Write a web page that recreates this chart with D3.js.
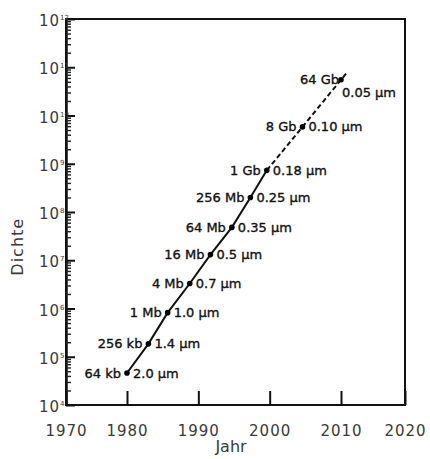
<!DOCTYPE html>
<html>
<head>
<meta charset="utf-8">
<script src="https://cdn.jsdelivr.net/npm/d3@7"></script>
<style>
  body { margin: 0; background: #fff; }
  text { font-family: "DejaVu Sans", sans-serif; }
</style>
</head>
<body>
<div id="chart"></div>
<script>
// DRAM generations: year of introduction, density, chip size and feature size
const years = [1980, 1983, 1985.7, 1988.8, 1991.7, 1994.7, 1997.3, 1999.6, 2004.6, 2010];
const density = [4.6e4, 1.85e5, 8.2e5, 3.3e6, 1.31e7, 4.8e7, 2.0e8, 7.3e8, 5.8e9, 5.5e10];
const chips = ["64 kb", "256 kb", "1 Mb", "4 Mb", "16 Mb", "64 Mb", "256 Mb", "1 Gb", "8 Gb", "64 Gb"];
const features = ["2.0 µm", "1.4 µm", "1.0 µm", "0.7 µm", "0.5 µm", "0.35 µm", "0.25 µm", "0.18 µm", "0.10 µm", "0.05 µm"];
const forecastFrom = 7; // from 1 Gb on the trend is projected (dashed)

const yearTicks = [1970, 1980, 1990, 2000, 2010, 2020];
const exponents = [4, 5, 6, 7, 8, 9, 10, 11, 12];

const data = years.map((d, i) => ({
  year: d,
  value: density[i],
  chip: chips[i],
  feature: features[i]
}));

const width = 430;
const height = 459;
const margin = { top: 19, right: 25, bottom: 54, left: 66 };
const innerW = width - margin.left - margin.right;
const innerH = height - margin.top - margin.bottom;

const svg = d3
  .select("#chart")
  .append("svg")
  .attr("width", width)
  .attr("height", height);

// Scales (the scanned figure has its 1970/2020 labels at the frame corners)
const x = d3
  .scaleLinear()
  .domain([1970, 1980, 2010, 2020])
  .range([margin.left, margin.left + 61, margin.left + 275, margin.left + innerW]);

const y = d3
  .scaleLog()
  .domain([1e4, 1e12])
  .range([margin.top + innerH, margin.top]);

// Frame
svg
  .append("rect")
  .attr("x", margin.left)
  .attr("y", margin.top)
  .attr("width", innerW)
  .attr("height", innerH)
  .attr("fill", "none")
  .attr("stroke", "#111")
  .attr("stroke-width", 2);

// Y axis, major ticks pointing inward
const majorTicks = exponents.map((e) => Math.pow(10, e));
const yAxis = svg
  .append("g")
  .attr("transform", `translate(${margin.left},0)`)
  .call(d3.axisLeft(y).tickValues(majorTicks).tickSizeInner(-9).tickSizeOuter(0).tickFormat(""));
yAxis.select(".domain").attr("stroke", "#111").attr("stroke-width", 2.5);
yAxis.selectAll(".tick line").attr("stroke", "#111").attr("stroke-width", 2);

// Minor ticks
const minorTicks = [];
exponents.slice(0, -1).forEach((e) => {
  for (let k = 2; k <= 9; k++) minorTicks.push(k * Math.pow(10, e));
});
const yMinor = svg
  .append("g")
  .attr("transform", `translate(${margin.left},0)`)
  .call(d3.axisLeft(y).tickValues(minorTicks).tickSizeInner(-5).tickSizeOuter(0).tickFormat(""));
yMinor.select(".domain").remove();
yMinor.selectAll(".tick line").attr("stroke", "#222").attr("stroke-width", 1.4);

// Y tick labels as 10 with superscript exponent
const yLabels = svg
  .append("g")
  .selectAll("g")
  .data(exponents)
  .join("g")
  .attr("transform", (e) => `translate(${margin.left - 6},${y(Math.pow(10, e))})`);
yLabels
  .append("text")
  .attr("text-anchor", "end")
  .attr("y", 7)
  .attr("fill", "#3a3a3a")
  .style("font-size", "15px")
  .style("letter-spacing", "1px")
  .text("10");
yLabels
  .append("text")
  .attr("x", 0)
  .attr("y", 1)
  .attr("fill", "#3a3a3a")
  .style("font-size", "7px")
  .text((e) => e);

// X axis, ticks pointing inward
const xAxis = svg
  .append("g")
  .attr("transform", `translate(0,${margin.top + innerH})`)
  .call(d3.axisBottom(x).tickValues(yearTicks).tickSizeInner(-14).tickSizeOuter(0).tickPadding(20).tickFormat(d3.format("d")));
xAxis.select(".domain").remove();
xAxis.selectAll(".tick line").attr("stroke", "#111").attr("stroke-width", 2);
xAxis
  .selectAll(".tick text")
  .attr("fill", "#3a3a3a")
  .style("font-size", "15px")
  .style("letter-spacing", "1px")
  .style("font-family", "DejaVu Sans, sans-serif");

// Axis titles
svg
  .append("text")
  .attr("x", 231)
  .attr("y", 452)
  .attr("text-anchor", "middle")
  .attr("fill", "#3a3a3a")
  .style("font-size", "16px")
  .text("Jahr");

svg
  .append("text")
  .attr("transform", `translate(23,${margin.top + innerH * 0.59}) rotate(-90)`)
  .attr("text-anchor", "middle")
  .attr("fill", "#3a3a3a")
  .style("font-size", "16px")
  .style("letter-spacing", "1px")
  .text("Dichte");

// Trend lines: measured (solid) and projected (dashed)
const line = d3
  .line()
  .x((d) => x(d.year))
  .y((d) => y(d.value));

svg
  .append("path")
  .datum(data.slice(0, forecastFrom + 1))
  .attr("d", line)
  .attr("fill", "none")
  .attr("stroke", "#111")
  .attr("stroke-width", 2);

// dashed part runs a little past the last point, along the same direction
const last = data[data.length - 1];
const prev = data[data.length - 2];
const lx = x(last.year), ly = y(last.value);
const dx = lx - x(prev.year), dy = ly - y(prev.value);
const len = Math.hypot(dx, dy);
const projected = data.slice(forecastFrom).map((d) => [x(d.year), y(d.value)]);
projected.push([lx + (dx / len) * 8, ly + (dy / len) * 8]);

svg
  .append("path")
  .datum(projected)
  .attr("d", d3.line())
  .attr("fill", "none")
  .attr("stroke", "#111")
  .attr("stroke-width", 2)
  .attr("stroke-dasharray", "5,3");

// Points
svg
  .selectAll(".dot")
  .data(data)
  .join("circle")
  .attr("class", "dot")
  .attr("cx", (d) => x(d.year))
  .attr("cy", (d) => y(d.value))
  .attr("r", 2.8)
  .attr("fill", "#000");

// Labels: chip size left, feature size right
svg
  .selectAll(".chip")
  .data(data)
  .join("text")
  .attr("class", "chip")
  .attr("x", (d, i) => x(d.year) - (i === data.length - 1 ? 2 : 6))
  .attr("y", (d) => y(d.value))
  .attr("dy", "0.35em")
  .attr("text-anchor", "end")
  .attr("fill", "#111")
  .attr("stroke", "#111")
  .attr("stroke-width", 0.35)
  .style("font-size", "13px")
  .text((d) => d.chip);

svg
  .selectAll(".feature")
  .data(data)
  .join("text")
  .attr("class", "feature")
  .attr("x", (d, i) => x(d.year) + (i === data.length - 1 ? 1 : 6))
  .attr("y", (d, i) => y(d.value) + (i === data.length - 1 ? 13 : 0))
  .attr("dy", "0.35em")
  .attr("text-anchor", "start")
  .attr("fill", "#111")
  .attr("stroke", "#111")
  .attr("stroke-width", 0.35)
  .style("font-size", "13px")
  .text((d) => d.feature);
</script>
</body>
</html>
